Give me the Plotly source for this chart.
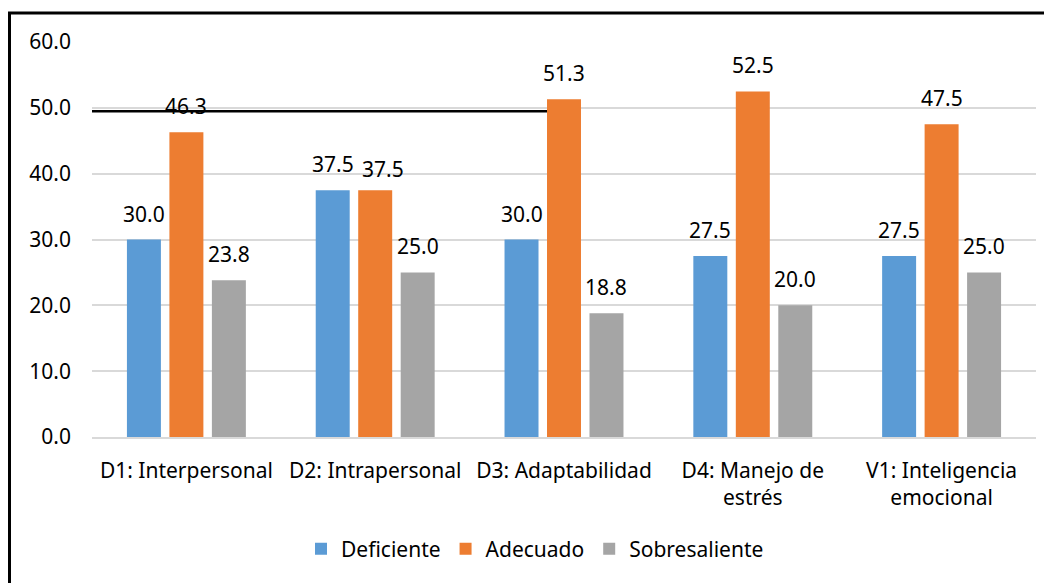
import plotly.graph_objects as go

categories = ["D1: Interpersonal", "D2: Intrapersonal", "D3: Adaptabilidad",
              "D4: Manejo de<br>estrés", "V1: Inteligencia<br>emocional"]
series_names = ["Deficiente", "Adecuado", "Sobresaliente"]
deficiente = [30.0, 37.5, 30.0, 27.5, 27.5]
adecuado = [46.3, 37.5, 51.3, 52.5, 47.5]
sobresaliente = [23.8, 25.0, 18.8, 20.0, 25.0]
y_ticks = [0, 10, 20, 30, 40, 50, 60]

colors = ["#5B9BD5", "#ED7D31", "#A5A5A5"]
values = [deficiente, adecuado, sobresaliente]
FONT = "Noto Sans"
FS = 21

OFF = 8  # page body margin
W, H = 1052 - OFF, 583 - OFF
ML, MT = 92 - OFF, 42 - OFF
MR = W - (1036 - OFF)
MB = H - (437 - OFF)
pw = W - ML - MR
ph = H - MT - MB

fig = go.Figure()
for name, vals, col in zip(series_names, values, colors):
    fig.add_trace(go.Bar(x=list(range(len(categories))), y=vals, name=name,
                         marker=dict(color=col, line=dict(width=0))))

# data labels (nudge a label that would collide with its left neighbour)
cat_w = pw / len(categories)
slot = cat_w * (1 - 0.325) / 3
for i, vals in enumerate(values):
    for j, v in enumerate(vals):
        xs, ys = (i - 1) * slot, 10
        if i > 0 and abs(values[i - 1][j] - v) < 2:
            xs += 8
            ys -= 5
        fig.add_annotation(x=j, y=v, text=f"{v:.1f}", showarrow=False,
                           xshift=xs, yanchor="bottom", yshift=ys,
                           font=dict(family=FONT, size=FS, color="#000000"))

# stray black line near 50 and the chart border
fig.add_shape(type="line", xref="paper", x0=0, x1=(548 - 92) / pw,
              yref="y", y0=49.5, y1=49.5, line=dict(color="black", width=2.5),
              layer="between")
fig.add_shape(type="rect", xref="paper", yref="paper",
              x0=(9.5 - 92) / pw, x1=(1070 - 92) / pw,
              y0=(437 - 600) / ph, y1=(437 - 13) / ph,
              line=dict(color="black", width=3), fillcolor="rgba(0,0,0,0)")

fig.update_layout(
    width=W, height=H,
    margin=dict(l=ML, r=MR, t=MT, b=MB, autoexpand=False),
    paper_bgcolor="white", plot_bgcolor="white",
    barmode="group", bargap=0.325, bargroupgap=0.2,
    font=dict(family=FONT, size=FS, color="#000000"),
    showlegend=True,
    legend=dict(orientation="h", xref="container", yref="container",
                x=(535 - OFF) / W, xanchor="center", y=1 - (549 - OFF) / H,
                yanchor="middle",
                font=dict(family=FONT, size=FS, color="#000000"),
                itemsizing="constant", tracegroupgap=0, itemwidth=30),
    xaxis=dict(tickmode="array", tickvals=list(range(len(categories))),
               ticktext=categories, range=[-0.5, len(categories) - 0.5],
               showgrid=False, showline=True, linecolor="#D9D9D9", linewidth=1.5,
               ticks="", ticklabelstandoff=14, tickfont=dict(size=FS)),
    yaxis=dict(range=[0, 60], tickvals=y_ticks,
               ticktext=[f"{t:.1f}" for t in y_ticks],
               showgrid=True, gridcolor="#D9D9D9", gridwidth=1.5,
               zeroline=False, showline=False, ticks="",
               ticklabelstandoff=20, tickfont=dict(size=FS)),
)

fig.write_html("out.html")
